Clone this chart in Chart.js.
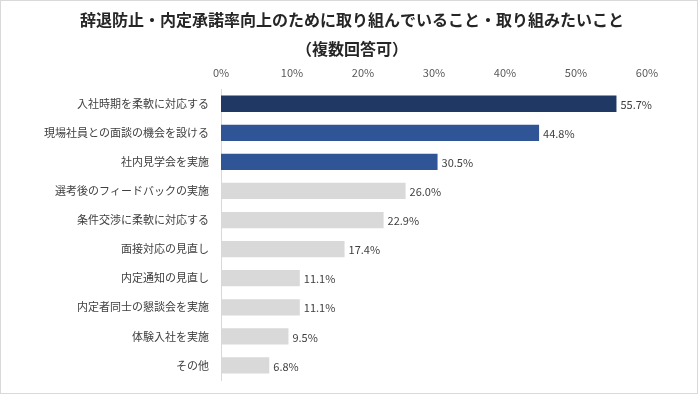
<!DOCTYPE html>
<html>
<head>
<meta charset="utf-8">
<script src="https://cdn.jsdelivr.net/npm/chart.js@4"></script>
<style>
  html, body { margin: 0; padding: 0; background: #fff; }
  #wrap { width: 696px; height: 392px; border: 1px solid #d9d9d9; position: relative; }
</style>
</head>
<body>
<div id="wrap"><canvas id="myChart" width="696" height="392"></canvas></div>
<script>
const categories = [
    "入社時期を柔軟に対応する",
    "現場社員との面談の機会を設ける",
    "社内見学会を実施",
    "選考後のフィードバックの実施",
    "条件交渉に柔軟に対応する",
    "面接対応の見直し",
    "内定通知の見直し",
    "内定者同士の懇談会を実施",
    "体験入社を実施",
    "その他"
];
const values = [55.7, 44.8, 30.5, 26.0, 22.9, 17.4, 11.1, 11.1, 9.5, 6.8];
const barColors = [
    "#203864", "#2F5597", "#2F5597",
    "#D9D9D9", "#D9D9D9", "#D9D9D9", "#D9D9D9", "#D9D9D9", "#D9D9D9", "#D9D9D9"
];
const titleLines = [
    "辞退防止・内定承諾率向上のために取り組んでいること・取り組みたいこと",
    "（複数回答可）"
];

const FONT = "'Noto Sans CJK JP', 'Noto Sans', sans-serif";

// two line title, centred on the whole picture rather than the chart box
const titleText = {
    id: 'titleText',
    afterDraw(chart) {
        const c = chart.ctx;
        c.save();
        c.font = "bold 16px " + FONT;
        c.fillStyle = "#262626";
        c.textAlign = "center";
        c.textBaseline = "middle";
        c.fillText(titleLines[0], 351, 19);
        c.fillText(titleLines[1], 351, 48);
        c.restore();
    }
};

// value labels at the end of each bar
const valueLabels = {
    id: 'valueLabels',
    afterDatasetsDraw(chart) {
        const c = chart.ctx;
        const meta = chart.getDatasetMeta(0);
        c.save();
        c.font = "11px " + FONT;
        c.fillStyle = "#404040";
        c.textAlign = "left";
        c.textBaseline = "middle";
        meta.data.forEach((bar, i) => {
            c.fillText(values[i].toFixed(1) + "%", bar.x + 4, bar.y + 1);
        });
        c.restore();
    }
};

const ctx = document.getElementById('myChart');
const chart = new Chart(ctx, {
    type: 'bar',
    data: {
        labels: categories,
        datasets: [{
            data: values,
            backgroundColor: barColors,
            borderWidth: 0,
            categoryPercentage: 0.56,
            barPercentage: 1
        }]
    },
    options: {
        indexAxis: 'y',
        responsive: false,
        animation: false,
        layout: {
            padding: { top: 63, left: 0, right: 50, bottom: 13 }
        },
        plugins: {
            legend: { display: false },
            tooltip: { enabled: false },
            title: { display: false }
        },
        scales: {
            x: {
                position: 'top',
                min: 0,
                max: 60,
                grid: { display: false },
                border: { display: false },
                ticks: {
                    stepSize: 10,
                    color: "#595959",
                    font: { family: FONT, size: 11 },
                    padding: 2,
                    callback: v => v + "%"
                }
            },
            y: {
                grid: { display: false },
                border: { display: true, color: "#d9d9d9" },
                ticks: {
                    color: "#404040",
                    font: { family: FONT, size: 11 },
                    padding: 4
                },
                afterFit(scale) { scale.width = 220; }
            }
        }
    },
    plugins: [valueLabels, titleText]
});
</script>
</body>
</html>
